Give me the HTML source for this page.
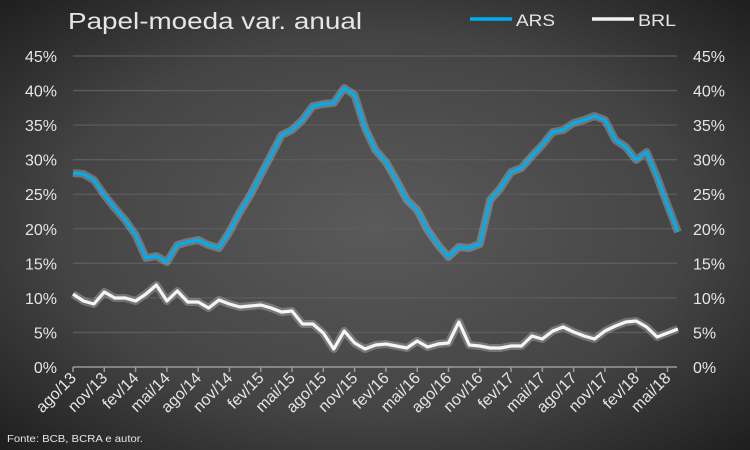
<!DOCTYPE html>
<html><head><meta charset="utf-8"><style>
body{margin:0;width:750px;height:450px;overflow:hidden;background:#3a3a3a}
svg{display:block}
text{font-family:"Liberation Sans",sans-serif;fill:#e6e6e6}
</style></head><body>
<svg id="s" width="750" height="450" xmlns="http://www.w3.org/2000/svg">
<defs><radialGradient id="g" cx="50%" cy="50%" r="70%"><stop offset="0" stop-color="#5a5a5a"/><stop offset="0.6" stop-color="#444"/><stop offset="1" stop-color="#1f1f1f"/></radialGradient></defs>
<rect width="750" height="450" fill="url(#g)"/>
<text x="68" y="29" font-size="23" fill="#f2f2f2" textLength="294" lengthAdjust="spacingAndGlyphs">Papel-moeda var. anual</text>
<line x1="470" y1="19" x2="512" y2="19" stroke="#00aeef" stroke-width="3.5"/>
<text x="516" y="26" font-size="17" textLength="39" lengthAdjust="spacingAndGlyphs">ARS</text>
<line x1="592" y1="19" x2="634" y2="19" stroke="#f2f2f2" stroke-width="3.5"/>
<text x="638" y="26" font-size="17" textLength="38" lengthAdjust="spacingAndGlyphs">BRL</text>
<g id="grid"></g><g id="series"></g>
<text x="7" y="442" font-size="10.5" fill="#ddd" textLength="136" lengthAdjust="spacingAndGlyphs">Fonte: BCB, BCRA e autor.</text>
</svg>
<script>
const ns="http://www.w3.org/2000/svg",s=document.getElementById('s'),gr=document.getElementById('grid'),se=document.getElementById('series');
function el(t,a,p,txt){const e=document.createElementNS(ns,t);for(const k in a)e.setAttribute(k,a[k]);if(txt)e.textContent=txt;p.appendChild(e);return e;}
for(let i=0;i<=9;i++){const y=367-i*5*6.911;
 if(i>0)el('line',{x1:73,x2:677,y1:y,y2:y,stroke:'#5c5c5c','stroke-width':1.3},gr);
 el('text',{x:57,y:y+6,'font-size':16,'text-anchor':'end'},gr,(i*5)+'%');
 el('text',{x:693,y:y+6,'font-size':16},gr,(i*5)+'%');}
el('line',{x1:73,x2:677,y1:367,y2:367,stroke:'#9a9a9a','stroke-width':1.5},gr);
const labs=['ago/13','nov/13','fev/14','mai/14','ago/14','nov/14','fev/15','mai/15','ago/15','nov/15','fev/16','mai/16','ago/16','nov/16','fev/17','mai/17','ago/17','nov/17','fev/18','mai/18'];
const dx=10.43;
labs.forEach((l,i)=>{const x=73+i*3*dx;el('line',{x1:x,x2:x,y1:367,y2:372,stroke:'#9a9a9a','stroke-width':1.5},gr);
 el('text',{x:x+4,y:379,'font-size':16,'text-anchor':'end',transform:`rotate(-45 ${x+4} 379)`},gr,l);});
const ars=[173,174,180,195,208,220,235,258,256,262,245,242,240,245,248,232,212,195,175,155,135,130,120,106,104,103,88,95,128,150,162,180,200,210,230,245,257,247,248,244,200,188,172,168,156,145,132,130,123,120,116,120,140,147,160,152,177,205,232];
const brl=[294,301,304,292,298,298,301,294,285,301,291,302,302,308,300,304,307,306,305,308,312,311,324,324,333,349,331,343,349,345,344,346,348,341,347,344,343,322,345,346,348,348,346,346,336,339,331,327,332,336,339,331,326,322,321,327,337,333,329];
function draw(d,c){const p=d.map((y,i)=>(73+i*dx).toFixed(1)+','+y).join(' ');
 el('polyline',{points:p,fill:'none',stroke:'rgba(200,200,200,0.35)','stroke-width':8,'stroke-linejoin':'round'},se);
 el('polyline',{points:p,fill:'none',stroke:c,'stroke-width':3.2,'stroke-linejoin':'round'},se);}
draw(brl,'#f5f5f5');draw(ars,'#00aeef');
</script>
</body></html>
